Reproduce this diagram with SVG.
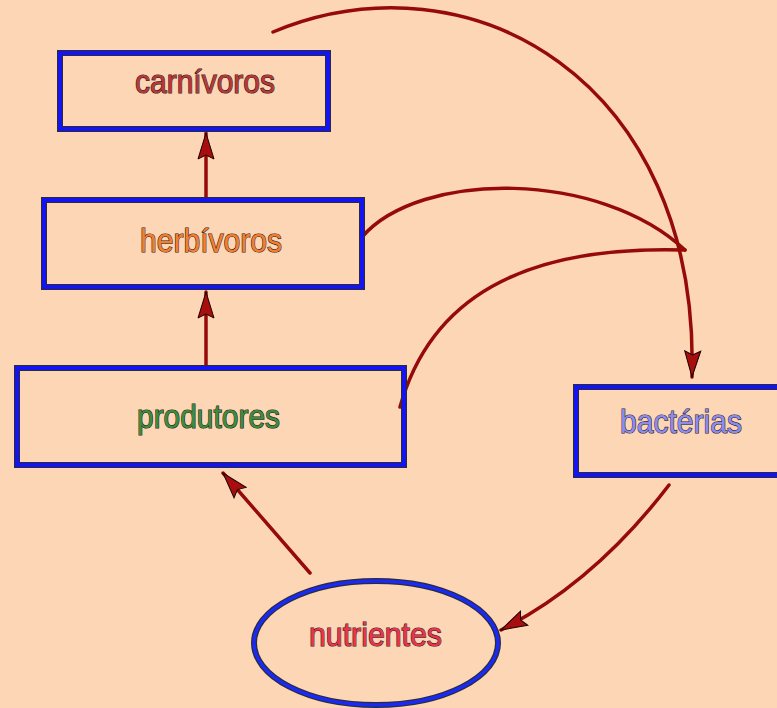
<svg xmlns="http://www.w3.org/2000/svg" width="777" height="708" viewBox="0 0 777 708">
  <style>
    .edge { fill: none; stroke: #2a2a3a; stroke-width: 1; }
    .blue { fill: none; stroke: #1414F0; stroke-width: 4; }
    .lbl { font-family: "Liberation Sans", Arial, sans-serif; font-size: 34px; stroke: #2a1a1a; stroke-width: 1.2; paint-order: stroke; }
    .conn { fill: none; stroke: #960A0A; stroke-width: 3.5; stroke-linecap: round; }
  </style>
  <defs>
    <marker id="ah" markerUnits="userSpaceOnUse" markerWidth="30" markerHeight="20" refX="27" refY="9" orient="auto">
      <path d="M1,1 L27,9 L1,17 L5,9 z" fill="#A80E0E" stroke="#1a0000" stroke-width="1"/>
    </marker>
  </defs>
  <rect width="777" height="708" fill="#FCD6B5"/>

  <g id="connectors">
    <path class="conn" d="M206,197 L206,133" marker-end="url(#ah)"/>
    <path class="conn" d="M206,365 L206,292" marker-end="url(#ah)"/>
    <path class="conn" d="M310,573 L223,473" marker-end="url(#ah)"/>
    <path class="conn" d="M669,485 Q595,582 501,630" marker-end="url(#ah)"/>
    <path class="conn" d="M273,32 C470,-50 700,80 692,377" marker-end="url(#ah)"/>
    <path class="conn" d="M362,237 C420,170 600,170 685,250"/>
    <path class="conn" d="M400,407 C430,300 520,245 685,250"/>
  </g>

  <g id="carnivoros">
    <rect class="edge" x="57.5" y="50.5" width="273" height="81"/>
    <rect class="blue" x="60" y="53" width="268" height="76"/>
    <rect class="edge" x="62.5" y="55.5" width="263" height="71"/>
    <text class="lbl" x="135" y="93" textLength="140" lengthAdjust="spacingAndGlyphs" fill="#B83838">carnívoros</text>
  </g>

  <g id="herbivoros">
    <rect class="edge" x="41.5" y="197.5" width="323" height="92"/>
    <rect class="blue" x="44" y="200" width="318" height="87"/>
    <rect class="edge" x="46.5" y="202.5" width="313" height="82"/>
    <text class="lbl" x="140" y="252" textLength="142" lengthAdjust="spacingAndGlyphs" fill="#F27E30">herbívoros</text>
  </g>

  <g id="produtores">
    <rect class="edge" x="14.5" y="365.5" width="392" height="102"/>
    <rect class="blue" x="17" y="368" width="387" height="97"/>
    <rect class="edge" x="19.5" y="370.5" width="382" height="92"/>
    <text class="lbl" x="137" y="428" textLength="143" lengthAdjust="spacingAndGlyphs" fill="#3C8C3C">produtores</text>
  </g>

  <g id="bacterias">
    <rect class="edge" x="573.5" y="384.5" width="240" height="93"/>
    <rect class="blue" x="576" y="387" width="240" height="88"/>
    <rect class="edge" x="578.5" y="389.5" width="240" height="83"/>
    <text class="lbl" x="620" y="433" textLength="122" lengthAdjust="spacingAndGlyphs" fill="#8C8CF0">bactérias</text>
  </g>

  <g id="nutrientes">
    <ellipse cx="376" cy="643" rx="122" ry="62" fill="none" stroke="#2a2a3a" stroke-width="6"/>
    <ellipse cx="376" cy="643" rx="122" ry="62" fill="none" stroke="#1A2AF0" stroke-width="3.5"/>
    <text class="lbl" x="309" y="646" textLength="133" lengthAdjust="spacingAndGlyphs" fill="#E8344E">nutrientes</text>
  </g>
</svg>
